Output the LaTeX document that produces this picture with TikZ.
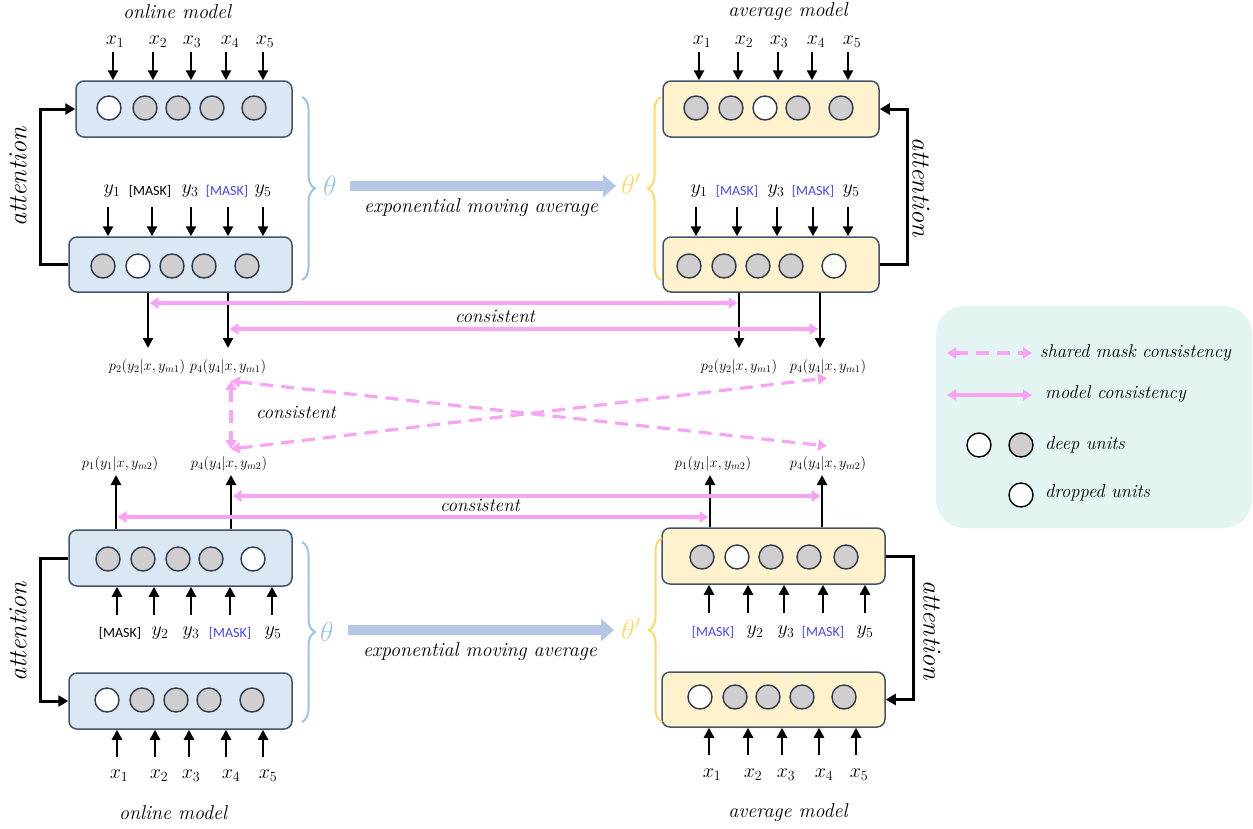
\RequirePackage{fix-cm}
\documentclass[tikz,border=0pt]{standalone}
\usepackage{fontspec}
\newfontfamily\maskfont{Carlito}
\usetikzlibrary{arrows.meta,decorations.pathreplacing}
\definecolor{boxblue}{HTML}{DAE7F4}
\definecolor{boxyel}{HTML}{FFF2CC}
\definecolor{bordc}{HTML}{44546A}
\definecolor{grayc}{HTML}{D0CECE}
\definecolor{circc}{HTML}{2F3B4C}
\definecolor{pinkc}{HTML}{F9A3F4}
\definecolor{legc}{HTML}{E2F5F2}
\definecolor{bracec}{HTML}{9DC3E6}
\definecolor{yelc}{HTML}{FFD966}
\definecolor{emac}{HTML}{B4C7E7}
\definecolor{maskc}{HTML}{4646FF}
\newcommand\mskk{{\maskfont\fontsize{14}{15}\selectfont[MASK]}}
\newcommand\mskb{{\color{maskc}\maskfont\fontsize{14}{15}\selectfont[MASK]}}
\begin{document}
\begin{tikzpicture}[x=1pt,y=-1pt,
  box/.style={draw=bordc, line width=1.5pt, rounded corners=8pt, inner sep=0},
  unit/.style={circle, draw=circc, line width=1.4pt, fill=grayc, minimum size=24pt, inner sep=0},
  blk/.style={line width=2.8pt, -{Triangle[length=10pt,width=10pt]}},
  att/.style={line width=3pt, -{Triangle[length=10pt,width=11pt]}},
  pk/.style={draw=pinkc, line width=3.2pt, {Triangle[length=9pt,width=11pt]}-{Triangle[length=9pt,width=11pt]}},
  pkd/.style={pk, dash pattern=on 13pt off 8pt},
  ema/.style={draw=emac, line width=10pt, -{Triangle[length=13pt,width=22pt]}},
  brc/.style={decorate, decoration={brace, amplitude=13pt}, line width=2pt},
  itl/.style={font=\itshape\fontsize{20}{22}\selectfont, inner sep=0},
  cons/.style={font=\itshape\fontsize{19}{21}\selectfont, inner sep=0},
  legl/.style={font=\itshape\fontsize{18.5}{20}\selectfont, inner sep=0, anchor=west},
  attl/.style={font=\itshape\fontsize{26}{28}\selectfont, inner sep=0},
  mlab/.style={font=\fontsize{20}{22}\selectfont, inner sep=0},
  plab/.style={font=\fontsize{14.5}{16}\selectfont, inner sep=0},
  thl/.style={font=\fontsize{28}{30}\selectfont, inner sep=0}
]
\useasboundingbox (0,0) rectangle (1253,828);

% ---------------- boxes ----------------
\node[box, fill=boxblue, minimum width=216pt, minimum height=56pt] (TLa) at (184,109) {};
\node[box, fill=boxblue, minimum width=223pt, minimum height=55pt] (TLb) at (180.5,264.5) {};
\node[box, fill=boxyel, minimum width=216pt, minimum height=56pt] (TRa) at (771,109) {};
\node[box, fill=boxyel, minimum width=216pt, minimum height=55pt] (TRb) at (771,264.5) {};
\node[box, fill=boxblue, minimum width=223pt, minimum height=56pt] (BLa) at (180.5,558) {};
\node[box, fill=boxblue, minimum width=223pt, minimum height=56pt] (BLb) at (180.5,701) {};
\node[box, fill=boxyel, minimum width=223pt, minimum height=56pt] (BRa) at (773.5,556) {};
\node[box, fill=boxyel, minimum width=223pt, minimum height=55pt] (BRb) at (773.5,699.5) {};

% ---------------- units ----------------
\foreach \x/\f [count=\i] in {109/white,145/grayc,178/grayc,212/grayc,254/grayc}
  \node[unit, fill=\f] (TLa-\i) at (\x,108) {};
\foreach \x/\f [count=\i] in {103/grayc,138/white,172/grayc,204/grayc,247/grayc}
  \node[unit, fill=\f] (TLb-\i) at (\x,266) {};
\foreach \x/\f [count=\i] in {696/grayc,731/grayc,765/white,798/grayc,841/grayc}
  \node[unit, fill=\f] (TRa-\i) at (\x,108) {};
\foreach \x/\f [count=\i] in {689/grayc,724/grayc,758/grayc,791/grayc,834/white}
  \node[unit, fill=\f] (TRb-\i) at (\x,266) {};
\foreach \x/\f [count=\i] in {108/grayc,143/grayc,178/grayc,211/grayc,253/white}
  \node[unit, fill=\f] (BLa-\i) at (\x,559) {};
\foreach \x/\f [count=\i] in {107/white,142/grayc,176/grayc,209/grayc,252/grayc}
  \node[unit, fill=\f] (BLb-\i) at (\x,700) {};
\foreach \x/\f [count=\i] in {702/grayc,737/white,771/grayc,809/grayc,846/grayc}
  \node[unit, fill=\f] (BRa-\i) at (\x,557) {};
\foreach \x/\f [count=\i] in {700/white,735/grayc,768/grayc,802/grayc,844/grayc}
  \node[unit, fill=\f] (BRb-\i) at (\x,697) {};

% ---------------- titles ----------------
\node[itl] (t1) at (177,12) {online model};
\node[itl] (t2) at (788,12) {average model};
\node[itl] (t3) at (173,813) {online model};
\node[itl] (t4) at (788,813) {average model};

% ---------------- inputs, top ----------------
\foreach \ax/\lx [count=\i] in {113/115,153/158,191/192,226/230,263/265} {
  \node[mlab] (TLx\i) at (\lx,42) {$x_{\i}$};
  \draw[blk] (\ax,52) -- (\ax,52 |- TLa.north);
}
\foreach \ax/\lx [count=\i] in {699/702,738/744,778/779,812/816,848/852} {
  \node[mlab] (TRx\i) at (\lx,42) {$x_{\i}$};
  \draw[blk] (\ax,52) -- (\ax,52 |- TRa.north);
}
\foreach \ax/\lx/\t [count=\i] in {108/112/{$y_1$},152/150/{\mskk},191/190/{$y_3$},228/227/{\mskb},263/263/{$y_5$}} {
  \node[mlab] (TLy\i) at (\lx,191) {\t};
  \draw[blk] (\ax,207) -- (\ax,207 |- TLb.north);
}
\foreach \ax/\lx/\t [count=\i] in {696/699/{$y_1$},737/737/{\mskb},777/776/{$y_3$},813/813/{\mskb},848/851/{$y_5$}} {
  \node[mlab] (TRy\i) at (\lx,191) {\t};
  \draw[blk] (\ax,207) -- (\ax,207 |- TRb.north);
}

% ---------------- inputs, bottom ----------------
\foreach \ax/\lx/\t [count=\i] in {117/120/{\mskk},154/160/{$y_2$},191/191/{$y_3$},230/230/{\mskb},272/273/{$y_5$}} {
  \node[mlab] (BLy\i) at (\lx,633) {\t};
  \draw[blk] (\ax,615) -- (\ax,615 |- BLa.south);
}
\foreach \ax/\lx/\t [count=\i] in {709/713/{\mskb},748/755/{$y_2$},784/786/{$y_3$},823/823/{\mskb},865/865/{$y_5$}} {
  \node[mlab] (BRy\i) at (\lx,632) {\t};
  \draw[blk] (\ax,613) -- (\ax,613 |- BRa.south);
}
\foreach \ax/\lx [count=\i] in {117/119,155/159,189/191,226/231,263/268} {
  \node[mlab] (BLx\i) at (\lx,776) {$x_{\i}$};
  \draw[blk] (\ax,757) -- (\ax,757 |- BLb.south);
}
\foreach \ax/\lx [count=\i] in {709/712,748/753,782/786,819/824,856/859} {
  \node[mlab] (BRx\i) at (\lx,775) {$x_{\i}$};
  \draw[blk] (\ax,755) -- (\ax,755 |- BRb.south);
}

% ---------------- attention loops ----------------
\draw[att] (TLb.west) -- ++(-28,0) |- (TLa.west);
\draw[att] (TRb.east) -- ++(28,0) |- (TRa.east);
\draw[att] (BLa.west) -- ++(-28,0) |- (BLb.west);
\draw[att] (BRa.east) -- ++(28,0) |- (BRb.east);
\node[attl, rotate=90] (a1) at (18,177) {attention};
\node[attl, rotate=-90] (a2) at (921,187) {attention};
\node[attl, rotate=90] (a3) at (18,632) {attention};
\node[attl, rotate=-90] (a4) at (932,630) {attention};

% ---------------- braces and EMA ----------------
\draw[brc, draw=bracec] (302,97) -- (302,280);
\draw[brc, draw=yelc] (661,280) -- (661,97);
\draw[brc, draw=bracec] (302,542) -- (302,722);
\draw[brc, draw=yelc] (662,722) -- (662,538);
\node[thl, text=bracec] (th1) at (330,186) {$\theta$};
\node[thl, text=yelc] (th2) at (631,184) {$\theta'$};
\node[thl, text=bracec] (th3) at (327,632) {$\theta$};
\node[thl, text=yelc] (th4) at (631,629) {$\theta'$};
\draw[ema] (350,186) -- (616,186);
\draw[ema] (348,630) -- (614,630);
\node[itl] (e1) at (481,208) {exponential moving average};
\node[itl] (e2) at (480,652) {exponential moving average};

% ---------------- outputs ----------------
\coordinate (o1) at (148,348);
\coordinate (o2) at (228,348);
\coordinate (o3) at (739,348);
\coordinate (o4) at (820,348);
\draw[blk] (o1 |- TLb.south) -- (o1);
\draw[blk] (o2 |- TLb.south) -- (o2);
\draw[blk] (o3 |- TRb.south) -- (o3);
\draw[blk] (o4 |- TRb.south) -- (o4);
\coordinate (u1) at (116,475);
\coordinate (u2) at (231,475);
\coordinate (u3) at (710,475);
\coordinate (u4) at (822,475);
\draw[blk] (u1 |- BLa.north) -- (u1);
\draw[blk] (u2 |- BLa.north) -- (u2);
\draw[blk] (u3 |- BRa.north) -- (u3);
\draw[blk] (u4 |- BRa.north) -- (u4);

\node[plab] (p1) at (147,367) {$p_2(y_2|x,y_{m1})$};
\node[plab] (p2) at (228,367) {$p_4(y_4|x,y_{m1})$};
\node[plab] (p3) at (739,367) {$p_2(y_2|x,y_{m1})$};
\node[plab] (p4) at (828,367) {$p_4(y_4|x,y_{m1})$};
\node[plab] (q1) at (120,464) {$p_1(y_1|x,y_{m2})$};
\node[plab] (q2) at (229,464) {$p_4(y_4|x,y_{m2})$};
\node[plab] (q3) at (713,464) {$p_1(y_1|x,y_{m2})$};
\node[plab] (q4) at (828,464) {$p_4(y_4|x,y_{m2})$};

% ---------------- consistency arrows ----------------
\draw[pk] (149.5,303) -- (737.5,303);
\draw[pk] (229.5,329) -- (818.5,329);
\node[cons] (c1) at (495,316) {consistent};
\draw[pk] (232.5,496) -- (820.5,496);
\draw[pk] (117.5,517) -- (708.5,517);
\node[cons] (c2) at (480,505) {consistent};
\coordinate (d1) at (231,381);
\coordinate (d2) at (231,449);
\coordinate (d3) at (827,446);
\coordinate (d4) at (827,378);
\draw[pkd] (d1) -- (d2);
\draw[pkd] (d1) -- (d3);
\draw[pkd] (d2) -- (d4);
\node[cons] (c3) at (296,412) {consistent};

% ---------------- legend ----------------
\node[fill=legc, rounded corners=28pt, minimum width=316pt, minimum height=222pt, inner sep=0] (leg) at (1094,417) {};
\draw[pkd] (947,353) -- (1032,353);
\node[legl] (l1) at (1040,353) {shared mask consistency};
\draw[pk] (947,395) -- (1032,395);
\node[legl] (l2) at (1045,394) {model consistency};
\node[unit, fill=white, draw=black] (lc1) at (979,445) {};
\node[unit, fill=grayc, draw=black] (lc2) at (1021,445) {};
\node[legl] (l3) at (1045,445) {deep units};
\node[unit, fill=white, draw=black] (lc3) at (1021,495) {};
\node[legl] (l4) at (1045,493) {dropped units};
\end{tikzpicture}
\end{document}
